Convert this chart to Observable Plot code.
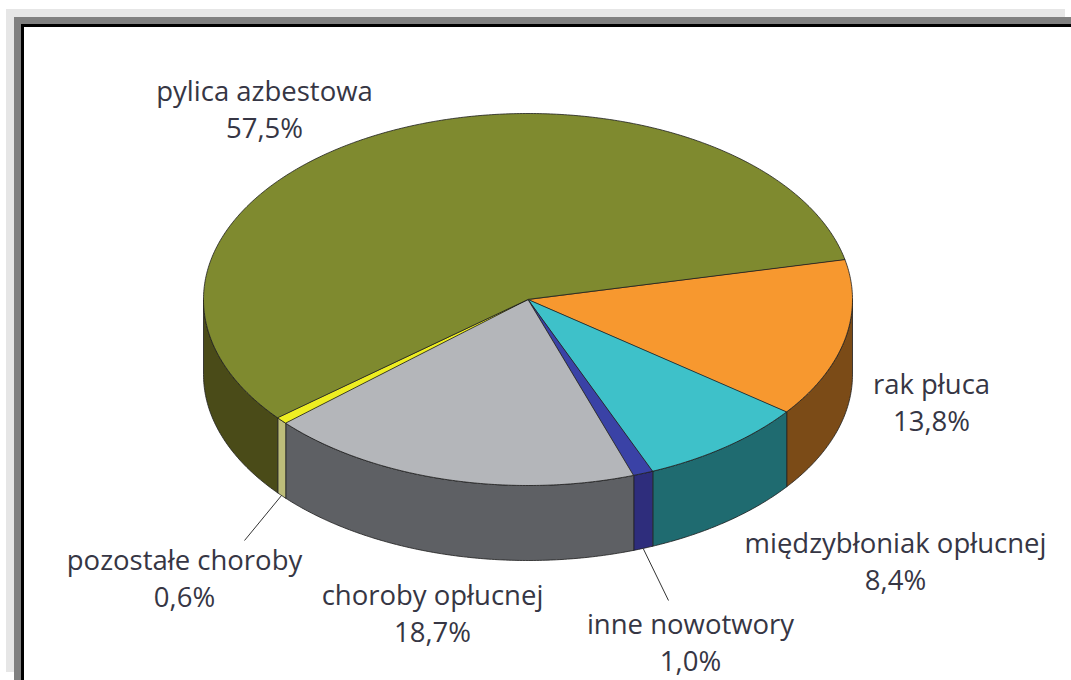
<!DOCTYPE html>
<html>
<head>
<meta charset="utf-8">
<script src="https://cdn.jsdelivr.net/npm/d3@7"></script>
<script src="https://cdn.jsdelivr.net/npm/@observablehq/plot@0.6"></script>
<style>
html, body { margin: 0; padding: 0; background: #fff; }
#wrap { position: relative; width: 1071px; height: 680px; overflow: hidden; }
.b1 { position: absolute; left: 6px; top: 9px; width: 1059px; height: 663px; background: #e6e6e6; }
.b2 { position: absolute; left: 14px; top: 17px; width: 1100px; height: 700px; background: #808080; }
.b3 { position: absolute; left: 21px; top: 24px; width: 1100px; height: 700px; background: #fff; border-left: 3px solid #000; border-top: 3px solid #000; }
#chart { position: absolute; left: 0; top: 0; }
</style>
</head>
<body>
<div id="wrap">
  <div class="b1"></div>
  <div class="b2"></div>
  <div class="b3"></div>
  <div id="chart"></div>
</div>
<script>
// ---- data ----
const categories = ["rak płuca", "międzybłoniak opłucnej", "inne nowotwory", "choroby opłucnej", "pozostałe choroby", "pylica azbestowa"];
const values = [13.8, 8.4, 1.0, 18.7, 0.6, 57.5];
const valueLabels = ["13,8%", "8,4%", "1,0%", "18,7%", "0,6%", "57,5%"];
const topColors = ["#f7982f", "#3ec1c9", "#3a42a6", "#b4b6ba", "#eeee22", "#7f8a2f"];
const sideColors = ["#7b4b17", "#1f6b70", "#2e2d7c", "#5e6064", "#bdbd7a", "#4a4b18"];

// ---- layout (pixels) ----
const cx = 527.5, cy = 299, rx = 324.5, ry = 186, depthPx = 75, startDeg = -12.5;
const labelPx = {
  "rak płuca": [931, 400],
  "międzybłoniak opłucnej": [895, 559],
  "inne nowotwory": [690, 640],
  "choroby opłucnej": [432, 611],
  "pozostałe choroby": [184, 576],
  "pylica azbestowa": [264, 107]
};
const leaderEndPx = { "inne nowotwory": [668, 600], "pozostałe choroby": [244, 540] };

const ux = px => (px - cx) / rx;
const uy = py => (py - cy) / ry;
const depth = depthPx / ry;
const rad = d => d * Math.PI / 180;

const total = d3.sum(values);
let acc = startDeg;
const slices = categories.map((c, i) => {
  const a0 = acc, a1 = acc + values[i] / total * 360;
  acc = a1;
  return {c, i, a0, a1};
});
function arcAngles(a0, a1) {
  const n = Math.max(2, Math.ceil((a1 - a0) / 0.5));
  return d3.range(n + 1).map(k => a0 + (a1 - a0) * k / n);
}

const topRows = [];
slices.forEach(s => {
  topRows.push({id: s.c, x: 0, y: 0, fill: topColors[s.i]});
  arcAngles(s.a0, s.a1).forEach(a => topRows.push({id: s.c, x: Math.cos(rad(a)), y: Math.sin(rad(a)), fill: topColors[s.i]}));
});

const sideRows = [];
slices.forEach(s => {
  [-360, 0, 360].forEach(off => {
    const st = Math.max(s.a0, off), en = Math.min(s.a1, off + 180);
    if (en - st > 0.01) {
      const id = s.c + off;
      const angs = arcAngles(st, en);
      angs.forEach(a => sideRows.push({id, x: Math.cos(rad(a)), y: Math.sin(rad(a)), fill: sideColors[s.i]}));
      angs.slice().reverse().forEach(a => sideRows.push({id, x: Math.cos(rad(a)), y: Math.sin(rad(a)) + depth, fill: sideColors[s.i]}));
    }
  });
});

const labelRows = slices.map(s => ({
  x: ux(labelPx[s.c][0]), y: uy(labelPx[s.c][1]),
  text: s.c + "\n" + valueLabels[s.i]
}));

const leaders = slices.filter(s => leaderEndPx[s.c]).map(s => {
  const m = rad((s.a0 + s.a1) / 2);
  return {x1: Math.cos(m), y1: Math.sin(m) + depth, x2: ux(leaderEndPx[s.c][0]), y2: uy(leaderEndPx[s.c][1])};
});

const chart = Plot.plot({
  width: 1071,
  height: 680,
  margin: 0,
  x: {domain: [-1, 1], range: [cx - rx, cx + rx], axis: null},
  y: {domain: [-1, 1], range: [cy - ry, cy + ry], axis: null},
  color: {type: "identity"},
  style: {background: "transparent", fontFamily: "'Open Sans', sans-serif"},
  marks: [
    Plot.line(sideRows, {x: "x", y: "y", z: "id", fill: "fill", stroke: "#1e1e1e", strokeWidth: 0.8, curve: "linear-closed"}),
    Plot.line(topRows, {x: "x", y: "y", z: "id", fill: "fill", stroke: "#1e1e1e", strokeWidth: 0.8, curve: "linear-closed"}),
    Plot.link(leaders, {x1: "x1", y1: "y1", x2: "x2", y2: "y2", stroke: "#333", strokeWidth: 1}),
    Plot.text(labelRows, {x: "x", y: "y", text: "text", fontSize: 27.5, lineHeight: 1.35, fill: "#363644", textAnchor: "middle", lineAnchor: "middle"})
  ]
});
document.getElementById("chart").appendChild(chart);
</script>
</body>
</html>
